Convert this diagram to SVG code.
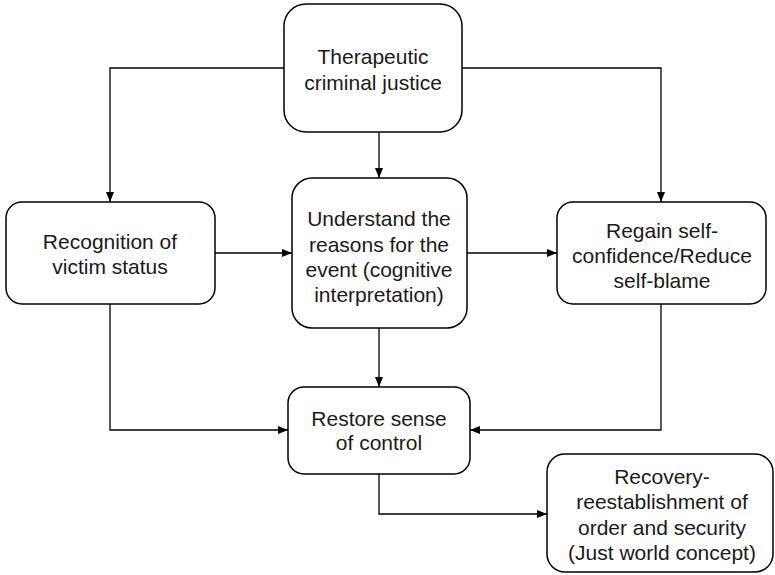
<svg xmlns="http://www.w3.org/2000/svg" width="775" height="575" viewBox="0 0 775 575">
<style>
.box{fill:#fff;stroke:#000;stroke-width:1.5}
.t{font-family:"Liberation Sans",Arial,Helvetica,sans-serif;font-size:21px;fill:#1a1a1a;text-anchor:middle}
.c{fill:none;stroke:#000;stroke-width:1.3}
</style>
<defs>
<marker id="ah" markerWidth="10" markerHeight="8" refX="10" refY="4" orient="auto" markerUnits="userSpaceOnUse">
<path d="M0,0 L10,4 L0,8 Z" fill="#000"/>
</marker>
</defs>
<rect width="775" height="575" fill="#fff"/>
<g id="connectors">
<path class="c" d="M284,68 H110 V202" marker-end="url(#ah)"/>
<path class="c" d="M462,68 H661 V202" marker-end="url(#ah)"/>
<path class="c" d="M379,132 V178" marker-end="url(#ah)"/>
<path class="c" d="M215,253 H292" marker-end="url(#ah)"/>
<path class="c" d="M467,253 H557" marker-end="url(#ah)"/>
<path class="c" d="M379,328 V387" marker-end="url(#ah)"/>
<path class="c" d="M110,304 V430 H288" marker-end="url(#ah)"/>
<path class="c" d="M661,304 V430 H470" marker-end="url(#ah)"/>
<path class="c" d="M379,474 V514 H547" marker-end="url(#ah)"/>
</g>
<g id="therapeutic">
<rect class="box" x="284" y="4" width="178" height="128" rx="22"/>
<text class="t" x="373" y="64">Therapeutic</text>
<text class="t" x="373" y="90">criminal justice</text>
</g>
<g id="recognition">
<rect class="box" x="6" y="202" width="209" height="102" rx="16"/>
<text class="t" x="110" y="249">Recognition of</text>
<text class="t" x="110" y="274">victim status</text>
</g>
<g id="understand">
<rect class="box" x="292" y="178" width="175" height="150" rx="20"/>
<text class="t" x="379" y="226">Understand the</text>
<text class="t" x="379" y="252">reasons for the</text>
<text class="t" x="379" y="277">event (cognitive</text>
<text class="t" x="379" y="302">interpretation)</text>
</g>
<g id="regain">
<rect class="box" x="557" y="202" width="209" height="102" rx="16"/>
<text class="t" x="662" y="238">Regain self-</text>
<text class="t" x="662" y="263">confidence/Reduce</text>
<text class="t" x="662" y="288">self-blame</text>
</g>
<g id="restore">
<rect class="box" x="288" y="387" width="182" height="87" rx="16"/>
<text class="t" x="379" y="426">Restore sense</text>
<text class="t" x="379" y="450">of control</text>
</g>
<g id="recovery">
<rect class="box" x="547" y="454" width="226" height="118" rx="18"/>
<text class="t" x="662" y="484">Recovery-</text>
<text class="t" x="662" y="509">reestablishment of</text>
<text class="t" x="662" y="535">order and security</text>
<text class="t" x="662" y="560">(Just world concept)</text>
</g>
</svg>
